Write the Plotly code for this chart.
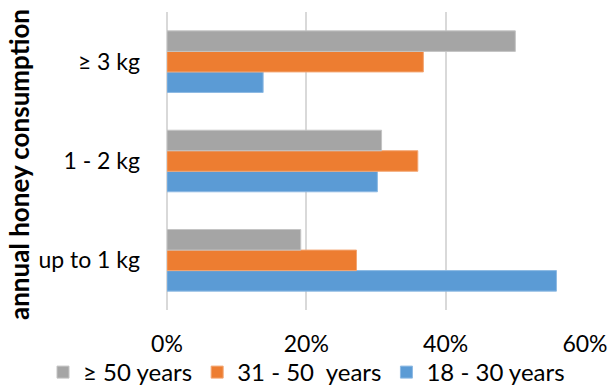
import plotly.graph_objects as go

categories = ["up to 1 kg", "1 - 2 kg", "≥ 3 kg"]
age_18_30 = [0.559, 0.302, 0.138]
age_31_50 = [0.272, 0.360, 0.368]
age_50_plus = [0.192, 0.308, 0.500]

series = [
    ("18 - 30 years", age_18_30, "#5B9BD5", "#8DB9E3"),
    ("31 - 50  years", age_31_50, "#ED7D31", "#F3A673"),
    ("≥ 50 years", age_50_plus, "#A5A5A5", "#C4C4C4"),
]

FONT = "Lato, Calibri, Carlito, sans-serif"
PLOT_L, PLOT_R, PLOT_T, PLOT_B = 167, 24, 12, 77
PLOT_W = 609 - PLOT_L - PLOT_R
PLOT_H = 387 - PLOT_T - PLOT_B

fig = go.Figure()
for name, vals, color, edge in series:
    fig.add_trace(go.Bar(
        y=categories, x=vals, name=name, orientation="h",
        marker=dict(color=color, line=dict(color=edge, width=1)),
    ))

fig.update_layout(
    width=609, height=387,
    margin=dict(l=PLOT_L, r=PLOT_R, t=PLOT_T, b=PLOT_B, autoexpand=False),
    paper_bgcolor="white", plot_bgcolor="white",
    barmode="group", bargap=0.38, bargroupgap=0,
    font=dict(family=FONT, size=23, color="#000000"),
    showlegend=True,
    legend=dict(orientation="h", traceorder="reversed",
                x=(43 - PLOT_L) / PLOT_W, xanchor="left", xref="paper",
                y=-(350 - (387 - PLOT_B)) / PLOT_H, yanchor="top", yref="paper",
                bgcolor="rgba(0,0,0,0)",
                font=dict(size=24), itemwidth=30, tracegroupgap=0),
    xaxis=dict(range=[0, 0.6], dtick=0.2, tickformat=".0%",
               showgrid=True, gridcolor="#D9D9D9", gridwidth=2,
               zeroline=True, zerolinecolor="#D9D9D9", zerolinewidth=2,
               showline=False, ticks="", ticklabelstandoff=18,
               fixedrange=True),
    yaxis=dict(showgrid=False, showline=False, ticks="",
               ticklabelstandoff=26, fixedrange=True),
)

fig.add_annotation(
    text="<b>annual honey consumption</b>", textangle=-90,
    xref="paper", yref="paper", x=(19 - PLOT_L) / PLOT_W,
    y=(387 - 165 - PLOT_B) / PLOT_H,
    xanchor="center", yanchor="middle", showarrow=False,
    font=dict(family=FONT, size=26, color="#000000"),
)

fig.write_html("out.html")
